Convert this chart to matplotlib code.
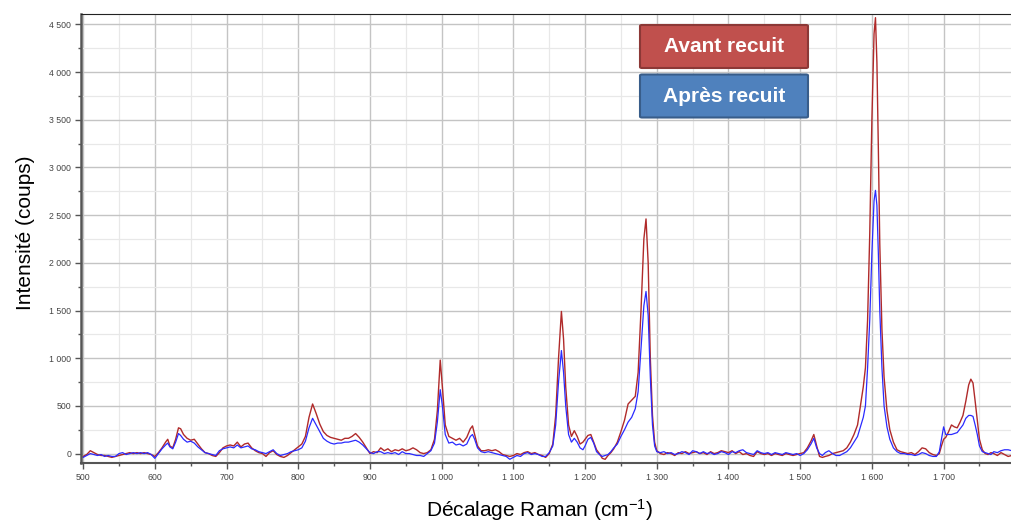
import numpy as np
import matplotlib
matplotlib.use('Agg')
import matplotlib.pyplot as plt
from matplotlib.ticker import MultipleLocator, FuncFormatter
from matplotlib.patches import FancyBboxPatch

plt.rcParams['font.family'] = ['Liberation Sans', 'DejaVu Sans']
plt.rcParams['mathtext.default'] = 'regular'

# décalage Raman (cm-1) et intensités (coups) avant / après recuit
shift = [500, 505, 510, 515, 520, 525, 530, 535, 540, 545, 550, 555, 560, 565, 570, 575, 580, 585, 590, 595, 600,
         605, 610, 615, 618, 621, 625, 629, 633, 636, 640, 645, 650, 655, 660, 665, 670, 675, 680, 685, 690, 695, 700,
         705, 710, 715, 720, 725, 730, 735, 740, 745, 750, 755, 760, 765, 770, 775, 780, 785, 790, 795, 800,
         805, 810, 815, 820, 825, 830, 835, 840, 845, 850, 855, 860, 865, 870, 875, 880, 885, 890, 895, 900,
         905, 910, 915, 920, 925, 930, 935, 940, 945, 950, 955, 960, 965, 970, 975, 980, 985, 990, 994, 998, 1001, 1005,
         1010, 1015, 1020, 1025, 1030, 1035, 1040, 1043, 1046, 1050, 1055, 1060, 1065, 1070, 1075, 1080, 1085, 1090, 1095, 1100,
         1105, 1110, 1115, 1120, 1125, 1130, 1135, 1140, 1145, 1150, 1155, 1159, 1163, 1167, 1170, 1173, 1177, 1181, 1185, 1189, 1193, 1197, 1200,
         1204, 1208, 1212, 1216, 1220, 1224, 1228, 1232, 1236, 1240, 1245, 1250, 1255, 1260, 1265, 1270, 1274, 1278, 1282, 1285, 1288, 1291, 1294, 1297, 1300,
         1305, 1310, 1315, 1320, 1325, 1330, 1335, 1340, 1345, 1350, 1355, 1360, 1365, 1370, 1375, 1380, 1385, 1390, 1395, 1400,
         1405, 1410, 1415, 1420, 1425, 1430, 1435, 1440, 1445, 1450, 1455, 1460, 1465, 1470, 1475, 1480, 1485, 1490, 1495, 1500,
         1505, 1510, 1515, 1519, 1523, 1527, 1531, 1535, 1540, 1545, 1550, 1555, 1560, 1565, 1570, 1575, 1580, 1584, 1588, 1591, 1594, 1597, 1600, 1603, 1605,
         1607, 1609, 1611, 1614, 1617, 1621, 1625, 1630, 1635, 1640, 1645, 1650, 1655, 1660, 1665, 1670, 1675, 1680, 1685, 1690, 1694, 1697, 1700,
         1703, 1707, 1711, 1715, 1719, 1723, 1727, 1731, 1735, 1738, 1741, 1744, 1747, 1750, 1754, 1758, 1762, 1766, 1770, 1775, 1780, 1785, 1790, 1795]

avant = [-30, -10, 30, 10, -10, -20, -20, -30, -40, -30, -20, -10, 0, 10, 0, 10, 0, 10, 0, -10, -30,
         10, 60, 120, 150, 80, 60, 150, 270, 260, 200, 160, 140, 150, 100, 50, 10, 0, -20, -30, 10, 60, 80,
         90, 80, 120, 70, 100, 110, 60, 30, 10, 0, -30, 10, 30, -10, -30, -40, -20, 10, 40, 70,
         100, 180, 380, 520, 420, 310, 230, 190, 170, 160, 150, 140, 160, 160, 180, 210, 170, 120, 60, 0,
         20, 10, 60, 30, 50, 20, 40, 30, 50, 30, 40, 60, 40, 10, 0, 10, 40, 150, 450, 980, 700, 300,
         180, 160, 140, 160, 120, 170, 260, 290, 200, 80, 30, 30, 40, 30, 40, 20, -10, -20, -30, -20,
         0, -10, 10, 20, 0, 10, -10, -20, -40, 0, 100, 400, 1000, 1490, 1200, 700, 300, 180, 240, 180, 100, 120, 150,
         190, 200, 120, 40, 0, -50, -60, -20, 10, 50, 120, 230, 350, 520, 560, 600, 850, 1500, 2250, 2460, 2000, 1000, 400, 120, 30,
         0, -10, 10, 0, -20, 10, 0, 20, 0, 10, 20, 0, 10, -10, 20, 0, 10, 30, 20, 10,
         30, 0, 20, -10, 0, -20, -30, 20, 0, -10, 0, -20, 0, -10, -20, 0, -10, -20, -10, 0,
         10, 60, 130, 200, 80, -30, -40, -30, -20, 0, 10, 20, 30, 60, 120, 200, 300, 500, 700, 900, 1400, 2300, 3500, 4400, 4570,
         4100, 3200, 2200, 1300, 800, 450, 250, 120, 40, 20, 10, 0, 10, -10, 20, 60, 50, 10, -10, -20, 0, 80, 150,
         170, 230, 300, 280, 270, 330, 400, 550, 720, 780, 740, 550, 350, 150, 40, 0, -10, 10, 0, -20, 10, -10, -30, -20]

apres = [-40, -20, 0, -10, -20, -10, -30, -20, -30, -30, 0, 10, -10, 0, 10, 0, 10, 0, 10, -10, -50,
         0, 50, 90, 110, 70, 50, 120, 210, 190, 150, 120, 130, 110, 70, 40, 10, 0, -10, -20, 30, 50, 60,
         70, 60, 90, 60, 70, 80, 50, 40, 20, 10, 0, 20, 40, 0, -20, -10, 0, 20, 30, 40,
         60, 130, 270, 370, 300, 230, 160, 130, 110, 100, 110, 110, 120, 120, 130, 140, 120, 90, 50, 10,
         0, 20, 20, 0, 10, 0, 10, -10, 20, 0, 0, -10, -20, -20, -30, 0, 30, 110, 330, 670, 500, 200,
         110, 120, 90, 100, 80, 100, 180, 200, 150, 60, 20, 10, 20, 10, 0, -10, -20, -30, -60, -40,
         -20, -30, 0, 10, -10, 0, -10, -30, -30, 10, 80, 300, 750, 1080, 850, 500, 200, 120, 160, 120, 60, 40, 80,
         150, 170, 110, 20, -10, -30, -20, -10, 20, 60, 100, 180, 250, 330, 380, 470, 650, 1100, 1550, 1700, 1450, 800, 300, 80, 20,
         10, 20, 0, 10, -10, 0, 20, 10, -10, 30, 20, 0, 20, 0, 10, -10, 0, 20, 10, -10,
         20, 10, 30, 40, 10, 0, -10, 30, 10, 0, 10, -10, 10, 0, -10, 10, 0, -10, 0, -20,
         0, 40, 100, 160, 60, 0, -20, 10, 30, 0, -20, -20, 0, 20, 60, 120, 180, 280, 380, 500, 900, 1400, 2100, 2650, 2760,
         2600, 2100, 1500, 900, 500, 280, 150, 60, 20, 0, 0, -10, -10, -20, -10, 10, 0, -20, -30, -30, 20, 150, 280,
         200, 200, 200, 210, 220, 260, 300, 370, 400, 400, 390, 300, 200, 80, 20, 10, 0, -10, 20, 10, 30, 40, 40, 30]

legend_labels = ['Avant recuit', 'Après recuit']
legend_colors = ['#c0504d', '#4f81bd']
legend_edges = ['#8c3836', '#385d8a']

fig = plt.figure(figsize=(10.11, 5.23), dpi=100, facecolor='white')
ax = fig.add_axes([0.0801, 0.1145, 0.9199, 0.859])

ax.plot(shift, avant, color='#b02a2a', linewidth=1.0)
ax.plot(shift, apres, color='#2a2aff', linewidth=0.9)

ax.set_xlim(497, 1794)
ax.set_ylim(-100, 4610)

ax.xaxis.set_major_locator(MultipleLocator(100))
ax.xaxis.set_minor_locator(MultipleLocator(50))
ax.yaxis.set_major_locator(MultipleLocator(500))
ax.yaxis.set_minor_locator(MultipleLocator(250))

espace = FuncFormatter(lambda v, pos: f'{int(round(v)):,}'.replace(',', ' '))
ax.xaxis.set_major_formatter(espace)
ax.yaxis.set_major_formatter(espace)

ax.grid(which='major', color='#c4c4c4', linewidth=1.0)
ax.grid(which='minor', color='#e8e8e8', linewidth=0.9)
ax.set_axisbelow(True)

ax.tick_params(which='major', direction='out', length=4, width=1, color='#555555',
               labelsize=6.3, labelcolor='#444444', pad=3)
ax.tick_params(which='minor', direction='out', length=2.5, width=1, color='#555555')

ax.spines['right'].set_visible(False)
ax.spines['top'].set_color('#222222')
ax.spines['left'].set_color('#555555')
ax.spines['left'].set_linewidth(1.8)
ax.spines['bottom'].set_color('#555555')
ax.spines['bottom'].set_linewidth(1.5)

fig.text(0.025, 0.555, 'Intensité (coups)', rotation=90, ha='center', va='center', fontsize=15)
fig.text(0.534, 0.012, 'Décalage Raman (cm$^{-1}$)', ha='center', va='baseline', fontsize=15)

# cartouches de légende
for i, (lab, fc, ec) in enumerate(zip(legend_labels, legend_colors, legend_edges)):
    y0 = 1 - (68 + i * 49.5) / 523
    box = FancyBboxPatch((640 / 1011, y0), 168 / 1011, 43 / 523,
                         boxstyle='round,pad=0,rounding_size=0.002',
                         transform=fig.transFigure, facecolor=fc, edgecolor=ec,
                         linewidth=1.5, zorder=5)
    fig.add_artist(box)
    fig.text(724 / 1011, y0 + 21.5 / 523, lab, ha='center', va='center',
             fontsize=15, fontweight='bold', color='white', zorder=6)

fig.savefig('out.png', dpi=100, facecolor='white')
